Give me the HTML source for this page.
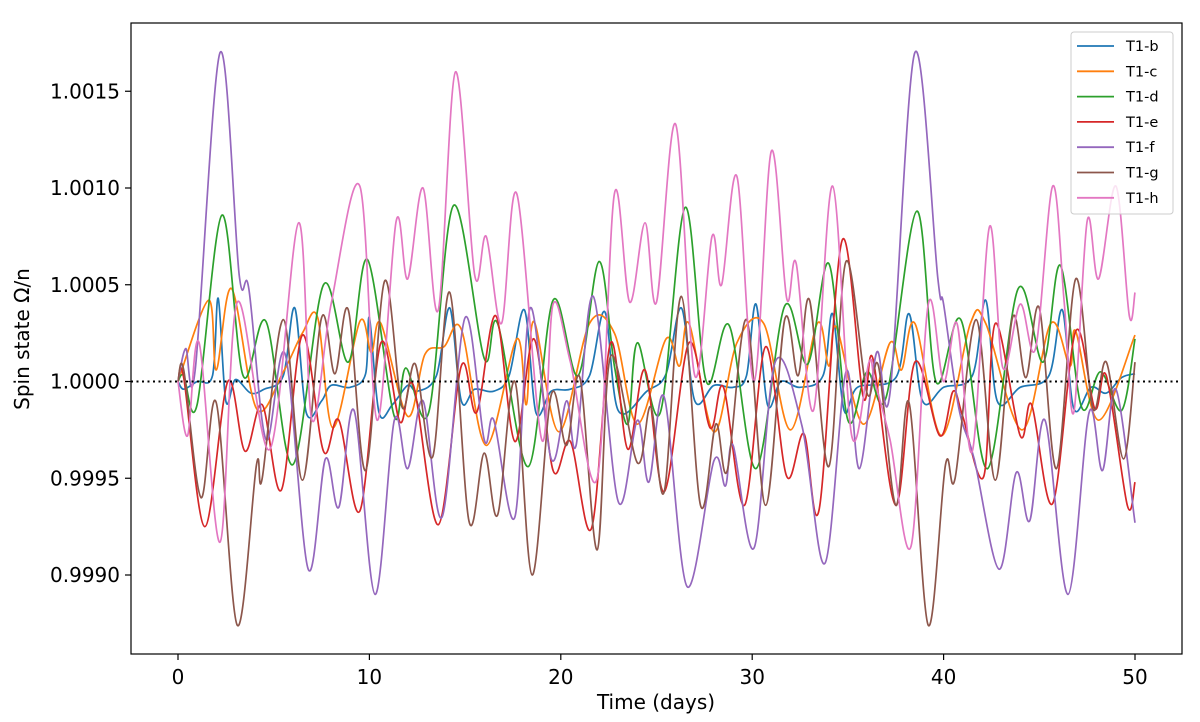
<!DOCTYPE html>
<html><head><meta charset="utf-8"><style>
body{margin:0;background:#fff;}
svg text{font-family:"DejaVu Sans","Liberation Sans",sans-serif;fill:#000;}
</style></head><body>
<svg id="chart" width="1200" height="717" viewBox="0 0 1200 717" xmlns="http://www.w3.org/2000/svg">
<rect width="1200" height="717" fill="#fff"/>
<g id="series"></g>
<g id="axes"></g>
</svg>
<script>
// Data: [time (days), deviation of Ω/n from 1 in units of 1e-4]
const xTicks = [0, 10, 20, 30, 40, 50];
const yTicks = [-10, -5, 0, 5, 10, 15];
const yTickLabels = ["0.9990", "0.9995", "1.0000", "1.0005", "1.0010", "1.0015"];
const names = ["T1-b","T1-c","T1-d","T1-e","T1-f","T1-g","T1-h"];
const colors = ["#1f77b4","#ff7f0e","#2ca02c","#d62728","#9467bd","#8c564b","#e377c2"];
const sB = [[0,0],[0.3,-0.4],[1,0],[1.8,0.3],[2.1,4.3],[2.5,-1],[3,0.1],[3.8,-0.6],[4.5,-0.4],[5.5,0.3],[6.1,3.8],[6.7,-1.6],[7.5,-1],[8,-0.2],[9,-0.3],[9.8,0.4],[10,3.3],[10.5,-1.6],[11.2,-1.2],[12,-0.2],[12.5,-0.5],[13.5,0.3],[14.2,3.8],[14.8,-1],[15.5,-0.4],[16.5,-0.5],[17.3,0.3],[18.1,3.7],[18.7,-1.6],[19.5,-0.5],[20.5,-0.4],[21.5,0.3],[22.3,3.6],[23,-1.5],[24.5,-0.5],[25.5,0.4],[26.3,3.8],[27,-1],[28,-0.2],[29,-0.3],[29.7,0.3],[30.2,4],[30.8,-1.2],[31.5,0],[32.5,-0.3],[33.7,0.3],[34.2,3.5],[34.8,-1.5],[35.5,-0.3],[37.5,0.2],[38.2,3.5],[38.9,-1],[40,-0.3],[41.5,0.3],[42.2,4.2],[42.8,-1],[44,-0.3],[45.5,0.3],[46.2,3.7],[46.8,-1.4],[47.7,-0.3],[48.5,-0.6],[49.3,0.2],[50,0.4]];
const sC = [[0,0],[1.6,4.2],[2.0,0.6],[2.8,4.8],[4.1,-1.4],[5.5,0.5],[6.5,2.5],[7.3,3.3],[8.1,-2.4],[9.5,3.1],[10.1,1.5],[10.6,3.0],[12.0,-1.8],[12.9,1.4],[13.9,1.8],[14.8,2.7],[16.1,-3.3],[17.7,2.2],[18.2,-1.2],[18.6,3.1],[19.9,-2.6],[21.5,3.0],[22.8,2.5],[24.0,-2.2],[25.5,2.2],[26.2,0.8],[26.7,3.0],[28.0,-2.6],[29.2,2.0],[30.6,3.0],[32.0,-2.5],[33.4,3.0],[34.0,0.8],[34.4,2.8],[35.8,-2.2],[37.2,2.0],[37.8,0.6],[38.5,3.0],[39.9,-2.8],[41.4,3.0],[42.2,3.0],[44.1,-2.5],[45.6,3.0],[46.6,0.8],[46.9,2.6],[48.1,-2.0],[50,2.4]];
const sD = [[0,0],[0.3,0.3],[1.0,-1.2],[2.3,8.6],[3.4,0.3],[4.6,3.1],[6.0,-4.3],[7.6,5.0],[8.9,1.0],[9.9,6.3],[11.3,-1.8],[11.9,0.7],[13.1,-1.6],[14.4,9.1],[16.0,1.2],[16.7,3.0],[18.3,-4.4],[19.6,4.2],[20.9,0.3],[22.0,6.2],[22.8,0.8],[23.5,-2.2],[24.0,2.0],[25.2,-1.6],[26.5,9.0],[27.6,0],[28.8,2.9],[30.2,-4.5],[31.7,3.9],[32.9,0.9],[34.0,6.1],[35.0,-2.0],[36.0,0.5],[37.0,-0.8],[38.6,8.8],[39.6,0],[40.9,3.2],[42.3,-4.5],[43.9,4.8],[45.2,1.0],[46.1,6.0],[47.2,-1.3],[48.2,0.5],[49.3,-1.5],[50,2.2]];
const sE = [[0,0],[0.3,0.2],[1.4,-7.5],[2.6,0],[3.5,-3.6],[4.4,-1.2],[5.4,-5.6],[6.5,2.4],[7.6,-3.6],[8.4,-2.0],[9.5,-6.7],[10.6,2.0],[11.6,-2.1],[12.3,-0.2],[13.6,-7.4],[14.8,0.8],[15.6,-1.6],[16.6,3.4],[17.6,-3.1],[18.6,2.2],[19.6,-4.6],[20.5,-3.1],[21.6,-7.6],[22.6,2.0],[23.5,-3.5],[24.4,0.6],[25.4,-5.7],[26.7,2.0],[27.8,-2.4],[28.5,-0.3],[29.6,-6.4],[30.7,1.8],[31.8,-4.9],[32.7,-2.7],[33.5,-6.6],[34.7,7.3],[35.8,-0.8],[36.3,1.2],[37.5,-6.4],[38.5,1.0],[39.8,-2.8],[40.5,-0.5],[41.0,-1.8],[42.1,-4.9],[42.7,3.0],[44.0,-2.8],[44.6,-1.2],[45.7,-6.3],[46.9,2.6],[47.9,-1.4],[48.5,0.3],[49.6,-6.4],[50,-5.2]];
const sF = [[0,0],[0.4,1.7],[0.9,0.6],[2.2,17.0],[3.2,5.5],[3.7,4.8],[4.6,-3.0],[5.6,1.4],[6.8,-9.7],[7.7,-4.0],[8.4,-6.5],[9.2,-1.5],[10.3,-11.0],[11.3,-2.0],[12.0,-4.5],[12.8,-1.0],[13.8,-7.0],[15.0,3.3],[16.0,-3.0],[16.5,-2.0],[17.6,-7.0],[18.4,3.8],[19.5,-4.0],[20.3,-1.0],[20.8,-3.3],[21.7,4.4],[23.0,-6.2],[24.0,-2.0],[24.6,-5.2],[25.4,-0.8],[26.6,-10.6],[28.0,-4.1],[28.6,-5.4],[29.0,-3.3],[30.1,-8.6],[31.2,1.0],[32.6,-2.3],[33.8,-9.4],[34.9,0.5],[35.6,-4.5],[36.5,1.5],[37.2,-0.6],[38.5,17.0],[39.7,5.3],[40.0,4.0],[40.8,-1.4],[41.6,-4.0],[42.9,-9.7],[43.8,-4.7],[44.5,-7.2],[45.3,-2.0],[46.5,-11.0],[47.6,-1.6],[48.3,-4.6],[49.0,-0.4],[50,-7.3]];
const sG = [[0,0],[0.3,0.6],[1.2,-6.0],[2.0,-1.1],[3.1,-12.6],[4.1,-4.3],[4.4,-5.0],[5.5,3.2],[6.5,-5.1],[7.5,3.3],[8.2,0.4],[8.9,3.7],[9.8,-4.6],[10.8,5.2],[11.7,-1.3],[12.4,0.9],[13.3,-3.9],[14.2,4.6],[15.2,-7.2],[16.0,-3.7],[16.7,-6.9],[17.6,0],[18.5,-10.0],[19.5,-0.7],[20.3,-3.3],[21.0,0.2],[21.9,-8.7],[22.6,1.3],[24.0,-4.2],[24.7,-1.3],[25.4,-5.7],[26.3,4.4],[27.3,-6.4],[28.1,-2.2],[28.7,-4.6],[29.7,3.2],[30.7,-6.4],[31.7,3.2],[32.4,0.3],[33.0,4.2],[34.0,-4.4],[34.9,6.2],[36.0,-0.6],[36.6,0.8],[37.5,-6.4],[38.2,-1.1],[39.2,-12.6],[40.1,-4.3],[40.6,-5.0],[41.7,3.2],[42.7,-5.1],[43.6,3.3],[44.3,0.2],[45.0,3.8],[45.9,-4.5],[46.9,5.3],[47.8,-1.4],[48.5,1.0],[49.4,-4.0],[50,1.0]];
const sH = [[0,0],[0.5,-2.8],[1.1,2.0],[2.2,-8.3],[3.1,4.1],[4.8,-3.5],[6.3,8.2],[7.0,-2.0],[8.0,4.0],[9.5,10.1],[10.4,-2.0],[11.4,8.3],[12.0,5.3],[12.8,10.0],[13.6,3.7],[14.5,16.0],[15.5,5.5],[16.1,7.5],[16.9,3.0],[17.7,9.7],[19.0,-3.0],[19.6,4.0],[20.5,1.0],[21.9,-5.0],[22.8,9.7],[23.6,4.1],[24.4,8.2],[25.0,4.1],[26.0,13.3],[27.0,0.3],[27.9,7.5],[28.4,5.0],[29.2,10.6],[30.1,0],[31.0,11.9],[31.8,4.3],[32.3,6.1],[33.2,-1.5],[34.2,10.1],[35.2,-2.8],[36.1,1.0],[36.4,0],[37.2,-3.0],[38.3,-8.5],[39.2,4.0],[40.0,0],[40.7,3.0],[41.5,-3.6],[42.4,8.0],[43.1,0.7],[44.0,4.0],[44.8,1.7],[45.7,10.1],[46.3,4.1],[46.8,-1.6],[47.5,8.3],[48.1,5.3],[49.0,10.1],[49.7,3.4],[50,4.6]];
const seriesData = [sB,sC,sD,sE,sF,sG,sH];

const L=131,R=1182,T=23,B=654;
function xs(t){return 178+t*19.14;}
function ys(v){return 381.5-v*19.35;}
const NS="http://www.w3.org/2000/svg";
function mk(tag,attrs,parent){const e=document.createElementNS(NS,tag);for(const k in attrs)e.setAttribute(k,attrs[k]);parent.appendChild(e);return e;}
function pathFor(pts){
  const p=pts.map(d=>[xs(d[0]),ys(d[1])]);
  let s="M"+p[0][0].toFixed(1)+","+p[0][1].toFixed(1);
  for(let i=0;i<p.length-1;i++){
    const p0=p[Math.max(i-1,0)],p1=p[i],p2=p[i+1],p3=p[Math.min(i+2,p.length-1)];
    const c1=[p1[0]+(p2[0]-p0[0])/6,p1[1]+(p2[1]-p0[1])/6];
    const c2=[p2[0]-(p3[0]-p1[0])/6,p2[1]-(p3[1]-p1[1])/6];
    s+="C"+c1[0].toFixed(1)+","+c1[1].toFixed(1)+" "+c2[0].toFixed(1)+","+c2[1].toFixed(1)+" "+p2[0].toFixed(1)+","+p2[1].toFixed(1);
  }
  return s;
}
const sg=document.getElementById('series');
const ax=document.getElementById('axes');
seriesData.forEach((d,i)=>{
  const el=mk('path',{d:pathFor(d),fill:'none',stroke:colors[i],'stroke-width':1.7,'stroke-linejoin':'round'},sg);
  
  
});
const ref=mk('line',{x1:L,x2:R,y1:ys(0),y2:ys(0),stroke:'#000','stroke-width':2,'stroke-dasharray':'2,3.5'},ax);


const frame=mk('rect',{x:L,y:T,width:R-L,height:B-T,fill:'none',stroke:'#000','stroke-width':1.2},ax);


xTicks.forEach(t=>{
  const tk=mk('line',{x1:xs(t),x2:xs(t),y1:B,y2:B+6,stroke:'#000','stroke-width':1.2},ax);
  
  
  const tx=mk('text',{x:xs(t),y:B+30,'text-anchor':'middle','font-size':20},ax);
  tx.textContent=t;
  
  
});
yTicks.forEach((v,i)=>{
  const tk=mk('line',{x1:L-6,x2:L,y1:ys(v),y2:ys(v),stroke:'#000','stroke-width':1.2},ax);
  
  
  const tx=mk('text',{x:L-11,y:ys(v)+7,'text-anchor':'end','font-size':20},ax);
  tx.textContent=yTickLabels[i];
  
  
});
const xt=mk('text',{x:656,y:709,'text-anchor':'middle','font-size':20},ax);
xt.textContent='Time (days)';


const yt=mk('text',{x:0,y:0,'text-anchor':'middle','font-size':20,transform:'translate(29,339) rotate(-90)'},ax);
yt.textContent='Spin state Ω/n';


const lg=mk('g',{},ax);


mk('rect',{x:1071,y:32,width:102,height:182,rx:3,fill:'#fff','fill-opacity':0.8,stroke:'#ccc','stroke-width':1},lg);
names.forEach((n,i)=>{
  const y=46+i*25.3;
  const g=mk('g',{},lg);
  
  
  mk('line',{x1:1077,x2:1114,y1:y,y2:y,stroke:colors[i],'stroke-width':1.8},g);
  const t=mk('text',{x:1126,y:y+5,'font-size':14.5},g);
  t.textContent=n;
});
</script>
</body></html>
